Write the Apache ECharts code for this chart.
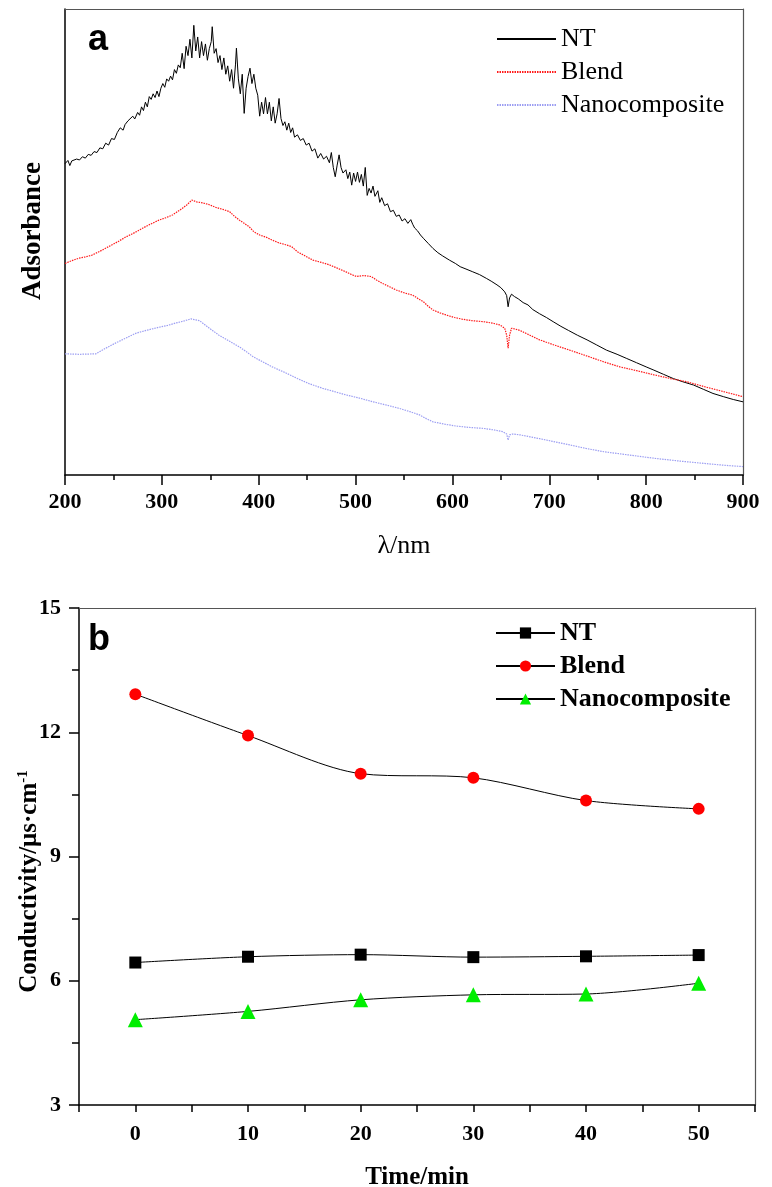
<!DOCTYPE html>
<html>
<head>
<meta charset="utf-8">
<script src="https://cdn.jsdelivr.net/npm/echarts@6/dist/echarts.min.js"></script>
<style>
  html, body { margin: 0; padding: 0; background: #fff; }
  #chart { width: 772px; height: 1187px; }
</style>
</head>
<body>
<div id="chart"></div>
<script>
// panel a: absorbance spectra, [wavelength nm, absorbance (arb. units)]
const ntSpectrum = [
  [200, .668], [203, .675], [205, .664], [207, .674], [209, .670], [212, .678], [215, .676], [218, .683],
  [221, .680], [224, .688], [227, .686], [230, .694], [233, .692], [236, .702], [239, .700], [242, .712],
  [245, .708], [248, .722], [251, .720], [254, .735], [257, .745], [260, .740], [262, .752], [265, .760],
  [267, .756], [270, .770], [272, .764], [275, .778], [277, .772], [279, .790], [281, .782], [283, .800],
  [285, .790], [287, .812], [289, .806], [291, .818], [293, .810], [295, .824], [297, .812], [299, .830],
  [301, .840], [303, .832], [305, .850], [307, .845], [309, .856], [311, .848], [313, .870], [315, .862],
  [317, .880], [319, .874], [321, .905], [323, .872], [325, .920], [327, .900], [329, .935], [331, .895],
  [333, .965], [335, .910], [337, .940], [339, .895], [341, .930], [343, .900], [345, .925], [347, .890],
  [349, .915], [351, .930], [352, .962], [354, .905], [356, .915], [358, .885], [360, .900], [362, .870],
  [364, .895], [366, .860], [368, .878], [370, .845], [372, .870], [374, .830], [376, .880], [377, .916],
  [379, .850], [381, .818], [383, .860], [385, .776], [387, .830], [389, .855], [391, .873], [393, .840],
  [395, .860], [397, .830], [399, .815], [401, .770], [403, .800], [405, .775], [407, .810], [409, .775],
  [411, .800], [413, .760], [415, .790], [417, .755], [419, .775], [421, .808], [423, .765], [425, .750],
  [427, .758], [429, .740], [431, .755], [433, .735], [435, .745], [437, .725], [440, .730], [443, .718],
  [446, .722], [449, .708], [452, .712], [455, .695], [458, .700], [461, .680], [464, .690], [467, .678],
  [470, .684], [473, .670], [475, .692], [477, .660], [479, .640], [481, .665], [483, .687], [485, .660],
  [487, .648], [490, .655], [492, .636], [494, .650], [496, .622], [498, .648], [500, .630], [502, .650],
  [504, .628], [506, .645], [508, .620], [510, .660], [512, .600], [514, .615], [516, .605], [518, .620],
  [520, .598], [523, .610], [525, .585], [527, .595], [530, .578], [533, .582], [536, .565], [539, .568],
  [542, .555], [545, .558], [548, .545], [551, .550], [554, .540], [557, .548], [559, .538], [561, .530],
  [564, .524], [567, .515], [570, .508], [575, .497], [580, .486], [585, .477], [590, .470], [597, .461],
  [603, .454], [608, .447], [614, .442], [621, .436], [628, .430], [635, .422], [640, .416], [646, .408],
  [650, .402], [654, .393], [656, .385], [657.5, .361], [659, .380], [661, .388], [664, .383], [668, .378],
  [673, .370], [678, .365], [683, .355], [690, .346], [697, .338], [704, .329], [712, .319], [720, .310],
  [729, .300], [739, .290], [749, .279], [759, .268], [770, .259], [780, .250], [790, .241], [800, .232],
  [808, .225], [818, .216], [828, .207], [838, .200], [849, .193], [859, .184], [869, .175], [880, .168],
  [890, .162], [900, .157]
];
const blendSpectrum = [
  [200, .454], [207, .460], [214, .465], [221, .468], [228, .472], [236, .480], [245, .490], [254, .500],
  [263, .511], [270, .518], [277, .526], [285, .535], [292, .542], [297, .547], [304, .552], [311, .558],
  [316, .565], [321, .572], [326, .580], [331, .590], [336, .586], [342, .584], [349, .580], [356, .574],
  [363, .570], [370, .565], [375, .555], [380, .547], [385, .540], [390, .533], [395, .522], [401, .515],
  [408, .510], [414, .504], [421, .498], [428, .494], [434, .490], [440, .479], [448, .470], [456, .461],
  [465, .456], [473, .451], [481, .444], [490, .436], [496, .430], [501, .426], [508, .428], [516, .426],
  [522, .418], [528, .411], [535, .404], [542, .397], [550, .391], [559, .386], [565, .378], [570, .372],
  [575, .362], [580, .354], [587, .348], [594, .343], [602, .338], [611, .334], [621, .331], [632, .329],
  [641, .326], [649, .322], [654, .315], [656, .300], [657.5, .272], [659, .300], [661, .315], [665, .313],
  [670, .310], [680, .300], [690, .290], [705, .279], [721, .268], [738, .256], [756, .243], [773, .232],
  [790, .224], [808, .215], [825, .207], [842, .200], [863, .188], [880, .179], [900, .168]
];
const nanoSpectrum = [
  [200, .260], [215, .259], [232, .260], [242, .272], [252, .283], [263, .294], [273, .304], [285, .311],
  [297, .317], [306, .321], [314, .326], [322, .330], [330, .335], [335, .333], [339, .331], [349, .315],
  [359, .300], [370, .287], [380, .275], [387, .265], [394, .254], [404, .243], [414, .232], [427, .220],
  [440, .207], [452, .196], [466, .186], [478, .179], [490, .172], [504, .165], [518, .157], [532, .150],
  [545, .143], [556, .136], [566, .129], [573, .121], [580, .114], [592, .109], [604, .105], [618, .102],
  [632, .100], [642, .097], [652, .093], [656, .088], [657.5, .075], [659, .086], [662, .088], [670, .086],
  [680, .082], [690, .078], [704, .072], [720, .065], [738, .057], [756, .050], [782, .043], [808, .036],
  [834, .030], [859, .025], [880, .021], [900, .018]
];

// panel b: conductivity vs time
const timeMin = [0, 10, 20, 30, 40, 50];
const ntCond = [6.44, 6.58, 6.63, 6.57, 6.59, 6.62];
const blendCond = [12.92, 11.92, 11.0, 10.9, 10.35, 10.15];
const nanoCond = [5.06, 5.26, 5.54, 5.66, 5.68, 5.94];

const serif = '"Liberation Serif", "Times New Roman", serif';
const sans = '"Liberation Sans", Arial, sans-serif';

const chart = echarts.init(document.getElementById('chart'));

const pairs = (xs, ys) => xs.map((x, i) => [x, ys[i]]);

const option = {
  animation: false,
  backgroundColor: '#fff',
  grid: [
    { left: 65, top: 9, width: 678, height: 466, outerBoundsMode: 'none', containLabel: false },
    { left: 79, top: 608, width: 676, height: 497, outerBoundsMode: 'none', containLabel: false }
  ],
  graphic: [
    { type: 'text', left: 88, top: 22, style: { text: 'a', font: 'bold 36px ' + sans, fill: '#000' } },
    { type: 'text', left: 88, top: 622, style: { text: 'b', font: 'bold 36px ' + sans, fill: '#000' } }
  ],
  legend: [
    {
      data: ['NT', 'Blend', 'Nanocomposite'],
      orient: 'vertical', left: 491, top: 21,
      itemWidth: 59, itemHeight: 12, itemGap: 7,
      itemStyle: { opacity: 0 },
      textStyle: { fontFamily: serif, fontSize: 26, color: '#000' }
    },
    {
      data: ['NT ', 'Blend ', 'Nanocomposite '],
      orient: 'vertical', left: 490, top: 615,
      itemWidth: 59, itemHeight: 14, itemGap: 7,
      textStyle: { fontFamily: serif, fontSize: 26, fontWeight: 'bold', color: '#000' }
    }
  ],
  xAxis: [
    {
      type: 'value', gridIndex: 0, min: 200, max: 900, interval: 100,
      name: 'λ/nm', nameLocation: 'middle', nameGap: 58,
      nameTextStyle: { fontFamily: serif, fontSize: 26, color: '#000' },
      axisLine: { onZero: false, lineStyle: { color: '#000', width: 1.5 } },
      axisTick: { length: 10, lineStyle: { color: '#000', width: 1.5 } },
      minorTick: { show: true, splitNumber: 2, length: 5, lineStyle: { color: '#000', width: 1.5 } },
      axisLabel: { fontFamily: serif, fontWeight: 'bold', fontSize: 22, color: '#000', margin: 16 },
      splitLine: { show: false }
    },
    {
      type: 'value', gridIndex: 0, position: 'top', min: 200, max: 900,
      axisLine: { onZero: false, lineStyle: { color: '#555', width: 1.2 } },
      axisTick: { show: false }, axisLabel: { show: false }, splitLine: { show: false }
    },
    {
      type: 'value', gridIndex: 1, min: -5, max: 55, interval: 5,
      name: 'Time/min', nameLocation: 'middle', nameGap: 60,
      nameTextStyle: { fontFamily: serif, fontSize: 25, fontWeight: 'bold', color: '#000' },
      axisLine: { onZero: false, lineStyle: { color: '#000', width: 1.5 } },
      axisTick: { length: 7, lineStyle: { color: '#000', width: 1.5 } },
      axisLabel: {
        fontFamily: serif, fontWeight: 'bold', fontSize: 22, color: '#000', margin: 18,
        formatter: v => (v >= 0 && v <= 50 && v % 10 === 0) ? String(v) : ''
      },
      splitLine: { show: false }
    },
    {
      type: 'value', gridIndex: 1, position: 'top', min: -5, max: 55,
      axisLine: { onZero: false, lineStyle: { color: '#555', width: 1.2 } },
      axisTick: { show: false }, axisLabel: { show: false }, splitLine: { show: false }
    }
  ],
  yAxis: [
    {
      type: 'value', gridIndex: 0, min: 0, max: 1,
      name: 'Adsorbance', nameLocation: 'middle', nameGap: 18,
      nameTextStyle: { fontFamily: serif, fontSize: 27, fontWeight: 'bold', color: '#000', padding: [0, 0, 0, 22] },
      axisLine: { show: true, onZero: false, lineStyle: { color: '#000', width: 1.5 } },
      axisTick: { show: false }, axisLabel: { show: false }, splitLine: { show: false }
    },
    {
      type: 'value', gridIndex: 0, position: 'right', min: 0, max: 1,
      axisLine: { show: true, onZero: false, lineStyle: { color: '#555', width: 1.2 } },
      axisTick: { show: false }, axisLabel: { show: false }, splitLine: { show: false }
    },
    {
      type: 'value', gridIndex: 1, min: 3, max: 15, interval: 3,
      name: '{m|Conductivity/μs·cm}{s|-1}', nameLocation: 'middle', nameGap: 36,
      nameMoveOverlap: false,
      nameTextStyle: {
        color: '#000', padding: [0, 50, 0, 0],
        rich: {
          m: { fontFamily: serif, fontSize: 25, fontWeight: 'bold', color: '#000' },
          s: { fontFamily: serif, fontSize: 15, fontWeight: 'bold', color: '#000', verticalAlign: 'top', padding: [0, 0, 12, 0] }
        }
      },
      axisLine: { show: true, onZero: false, lineStyle: { color: '#000', width: 1.5 } },
      axisTick: { length: 10, lineStyle: { color: '#000', width: 1.5 } },
      minorTick: { show: true, splitNumber: 2, length: 7, lineStyle: { color: '#000', width: 1.5 } },
      axisLabel: { fontFamily: serif, fontWeight: 'bold', fontSize: 22, color: '#000', margin: 18 },
      splitLine: { show: false }
    },
    {
      type: 'value', gridIndex: 1, position: 'right', min: 3, max: 15,
      axisLine: { show: true, onZero: false, lineStyle: { color: '#555', width: 1.2 } },
      axisTick: { show: false }, axisLabel: { show: false }, splitLine: { show: false }
    }
  ],
  series: [
    {
      name: 'NT', type: 'line', xAxisIndex: 0, yAxisIndex: 0, data: ntSpectrum,
      symbol: 'none', showSymbol: false,
      lineStyle: { color: '#000', width: 1 }, itemStyle: { color: '#000' }
    },
    {
      name: 'Blend', type: 'line', xAxisIndex: 0, yAxisIndex: 0, data: blendSpectrum,
      symbol: 'none', showSymbol: false,
      lineStyle: { color: '#ff1a1a', width: 1.2, type: [1.5, 1] }, itemStyle: { color: '#ff1a1a' }
    },
    {
      name: 'Nanocomposite', type: 'line', xAxisIndex: 0, yAxisIndex: 0, data: nanoSpectrum,
      symbol: 'none', showSymbol: false,
      lineStyle: { color: '#9c9ef2', width: 1.2, type: [1.5, 1] }, itemStyle: { color: '#9c9ef2' }
    },
    {
      name: 'NT ', type: 'line', xAxisIndex: 2, yAxisIndex: 2, data: pairs(timeMin, ntCond),
      smooth: 0.3, symbol: 'rect', symbolSize: 12,
      lineStyle: { color: '#000', width: 1 }, itemStyle: { color: '#000' }
    },
    {
      name: 'Blend ', type: 'line', xAxisIndex: 2, yAxisIndex: 2, data: pairs(timeMin, blendCond),
      smooth: 0.3, symbol: 'circle', symbolSize: 12,
      lineStyle: { color: '#000', width: 1 }, itemStyle: { color: '#ff0000' }
    },
    {
      name: 'Nanocomposite ', type: 'line', xAxisIndex: 2, yAxisIndex: 2, data: pairs(timeMin, nanoCond),
      smooth: 0.3, symbol: 'triangle', symbolSize: 15,
      lineStyle: { color: '#000', width: 1 }, itemStyle: { color: '#00ee00' }
    }
  ]
};

chart.setOption(option);
</script>
</body>
</html>
